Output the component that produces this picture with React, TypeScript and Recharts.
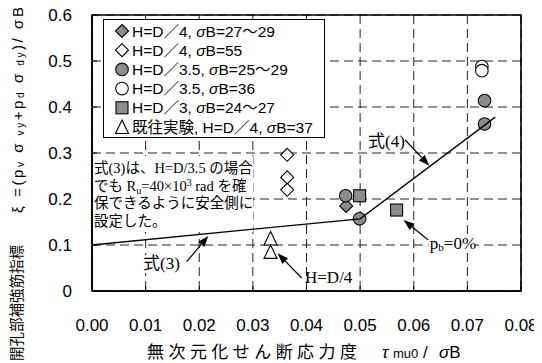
import React from 'react';
import {
  ScatterChart,
  Scatter,
  XAxis,
  YAxis,
  CartesianGrid,
  Legend,
  ReferenceLine,
  ReferenceDot,
  ReferenceArea,
} from 'recharts';

const SANS = "'Liberation Sans', Arial, 'Noto Sans CJK JP', sans-serif";
const SERIF = "'Liberation Serif', 'Times New Roman', 'Noto Sans CJK JP', serif";
const GRAY = '#8c8c8c';

const xTicks = [0, 0.01, 0.02, 0.03, 0.04, 0.05, 0.06, 0.07, 0.08];
const yTicks = [0, 0.1, 0.2, 0.3, 0.4, 0.5, 0.6];

// H=D/4, σB=27～29
const d4Gray = [{ x: 0.0474, y: 0.185 }];
// H=D/4, σB=55
const d4White = [
  { x: 0.0364, y: 0.296 },
  { x: 0.0364, y: 0.247 },
  { x: 0.0364, y: 0.22 },
];
// H=D/3.5, σB=25～29
const d35Gray = [
  { x: 0.0473, y: 0.207 },
  { x: 0.0499, y: 0.157 },
  { x: 0.0732, y: 0.414 },
  { x: 0.0732, y: 0.363 },
];
// H=D/3.5, σB=36
const d35White = [
  { x: 0.0727, y: 0.488 },
  { x: 0.0727, y: 0.479 },
];
// H=D/3, σB=24～27
const d3Gray = [
  { x: 0.0499, y: 0.207 },
  { x: 0.0568, y: 0.176 },
];
// 既往実験, H=D/4, σB=37
const pastTests = [
  { x: 0.0333, y: 0.114 },
  { x: 0.0333, y: 0.085 },
];
// 式(3) / 式(4)
const designLine = [
  { x: 0, y: 0.1 },
  { x: 0.05, y: 0.157 },
  { x: 0.0752, y: 0.378 },
];

const legendNames = [
  'H=D／4,  σB=27～29',
  'H=D／4,  σB=55',
  'H=D／3.5,  σB=25～29',
  'H=D／3.5,  σB=36',
  'H=D／3,  σB=24～27',
  '既往実験, H=D／4,  σB=37',
];
const legendMarks = ['diamond', 'diamond', 'circle', 'circle', 'square', 'triangle'];
const legendFills = [GRAY, '#fff', GRAY, '#fff', GRAY, '#fff'];

const noteLines = [
  '式(3)は、H=D/3.5 の場合',
  'でも R|u|=40×10^3^ rad を確',
  '保できるように安全側に',
  '設定した。',
];

type MarkProps = { cx: number; cy: number; fill: string };

const Mark = ({ kind, cx, cy, fill }: MarkProps & { kind: string }) => {
  const common = { fill, stroke: '#000', strokeWidth: 1.1 };
  if (kind === 'diamond') {
    const r = 6.5;
    return <polygon points={`${cx},${cy - r} ${cx + r},${cy} ${cx},${cy + r} ${cx - r},${cy}`} {...common} />;
  }
  if (kind === 'square') {
    return <rect x={cx - 6} y={cy - 6} width={12} height={12} {...common} />;
  }
  if (kind === 'triangle') {
    return <polygon points={`${cx},${cy - 7} ${cx + 6.5},${cy + 6.5} ${cx - 6.5},${cy + 6.5}`} {...common} />;
  }
  return <circle cx={cx} cy={cy} r={6.3} {...common} />;
};

const shapeOf = (kind: string, fill: string) => (p: any) => (
  <Mark kind={kind} cx={p.cx} cy={p.cy} fill={fill} />
);

// σ drawn in italics wherever it appears
const withSigma = (s: string) =>
  s.split('σ').map((part, i) => (
    <React.Fragment key={i}>
      {i > 0 && <tspan fontStyle="italic">σ</tspan>}
      {part}
    </React.Fragment>
  ));

const LegendBox = () => (
  <svg width={222} height={119} style={{ display: 'block' }}>
    <rect x={0.5} y={0.5} width={221} height={118} fill="#fff" stroke="#000" strokeWidth={1} />
    {legendNames.map((name, i) => {
      const cy = 12 + i * 19.2;
      return (
        <g key={name}>
          <Mark kind={legendMarks[i]} cx={19} cy={cy} fill={legendFills[i]} />
          <text x={29} y={cy + 5.5} fontSize={15.5} fontFamily={SANS} fill="#000">
            {withSigma(name)}
          </text>
        </g>
      );
    })}
  </svg>
);

// segment with a filled arrowhead at the second point
const arrowShape = (p: any) => {
  const { x1, y1, x2, y2 } = p;
  const a = Math.atan2(y2 - y1, x2 - x1);
  const len = 11;
  const w = 4;
  const bx = x2 - len * Math.cos(a);
  const by = y2 - len * Math.sin(a);
  const pts = `${x2},${y2} ${bx - w * Math.sin(a)},${by + w * Math.cos(a)} ${bx + w * Math.sin(a)},${by - w * Math.cos(a)}`;
  return (
    <g>
      <line x1={x1} y1={y1} x2={bx} y2={by} stroke="#000" strokeWidth={1.2} />
      <polygon points={pts} fill="#000" />
    </g>
  );
};

const labelShape = (content: React.ReactNode, bg?: number) => (p: any) => (
  <g>
    {bg ? <rect x={p.cx - 1} y={p.cy - 14} width={bg} height={18} fill="#fff" /> : null}
    <text x={p.cx} y={p.cy} fontSize={17} fontFamily={SERIF} fill="#000">
      {content}
    </text>
  </g>
);

// "R|u|" is a subscript, "^3^" a superscript
const richLine = (s: string) =>
  s.split(/(\|[^|]+\||\^[^^]+\^)/).map((part, i, all) => {
    const prev = all[i - 1] || '';
    const back = prev.startsWith('|') ? -3 : prev.startsWith('^') ? 5 : 0;
    if (part.startsWith('|')) {
      return (
        <tspan key={i} fontSize={10} dy={3}>
          {part.slice(1, -1)}
        </tspan>
      );
    }
    if (part.startsWith('^')) {
      return (
        <tspan key={i} fontSize={10} dy={-5}>
          {part.slice(1, -1)}
        </tspan>
      );
    }
    return (
      <tspan key={i} dy={back}>
        {part}
      </tspan>
    );
  });

const noteShape = (p: any) => (
  <g>
    <rect x={p.cx + 1} y={p.cy} width={160} height={76} fill="#fff" />
    {noteLines.map((line, i) => (
      <text key={i} x={p.cx + 2} y={p.cy + 17 + i * 17.7} fontSize={14.5} fontFamily={SERIF} fill="#000">
        {richLine(line)}
      </text>
    ))}
  </g>
);

const YTitle = () => (
  <g fontFamily={SANS} fill="#000">
    <text
      x={17}
      y={361}
      transform="rotate(-90, 17, 361)"
      dominantBaseline="central"
      fontSize={14.6}
      textLength={116}
      lengthAdjust="spacing"
    >
      開孔部補強筋指標
    </text>
    <text
      x={17}
      y={213}
      transform="rotate(-90, 17, 213)"
      dominantBaseline="central"
      fontSize={15}
      textLength={206}
      lengthAdjust="spacing"
    >
      <tspan>ξ =(p</tspan>
      <tspan fontSize={10} dy={3}>v</tspan>
      <tspan dy={-3}> σ</tspan>
      <tspan fontSize={10} dy={3}> vy</tspan>
      <tspan dy={-3}>+p</tspan>
      <tspan fontSize={10} dy={3}>d</tspan>
      <tspan dy={-3}> σ</tspan>
      <tspan fontSize={10} dy={3}> dy</tspan>
      <tspan dy={-3}>)/ σB</tspan>
    </text>
  </g>
);

const XTitle = () => (
  <g fontFamily={SANS} fill="#000">
    <text x={147} y={358} fontSize={17} textLength={210} lengthAdjust="spacing">
      無次元化せん断応力度
    </text>
    <text y={358} fontSize={17}>
      <tspan x={382} fontStyle="italic">τ</tspan>
      <tspan x={393} fontSize={13}>mu0</tspan>
      <tspan x={423}>/</tspan>
      <tspan x={439} fontStyle="italic">σ</tspan>
      <tspan>B</tspan>
    </text>
  </g>
);

const tickStyle = { fontSize: 17, fontFamily: SANS, fill: '#000' };

export default function App() {
  return (
    <div style={{ width: 542, height: 363, marginLeft: -8, marginTop: -8, position: 'relative' }}>
      <ScatterChart width={542} height={363} margin={{ top: 15, right: 21, bottom: 0, left: 0 }}>
        <CartesianGrid xAxisId="bottom" stroke="#222" strokeDasharray="9 5" strokeWidth={1} />
        <XAxis
          xAxisId="bottom"
          type="number"
          dataKey="x"
          domain={[0, 0.08]}
          ticks={xTicks}
          allowDataOverflow
          height={72}
          stroke="#000"
          strokeWidth={1.6}
          tickSize={5}
          tickMargin={23}
          tickLine={{ stroke: '#000', strokeWidth: 1, transform: 'translate(0,-5)' }}
          tick={tickStyle}
          tickFormatter={(v: number) => v.toFixed(2)}
          label={{ content: () => <XTitle /> }}
        />
        <XAxis
          xAxisId="top"
          orientation="top"
          type="number"
          domain={[0, 0.08]}
          ticks={xTicks}
          allowDataOverflow
          height={0}
          stroke="#000"
          strokeWidth={1.6}
          tickSize={5}
          tick={false}
          tickLine={{ stroke: '#000', strokeWidth: 1, transform: 'translate(0,5)' }}
        />
        <YAxis
          type="number"
          dataKey="y"
          domain={[0, 0.6]}
          ticks={yTicks}
          allowDataOverflow
          width={92}
          stroke="#000"
          strokeWidth={1.6}
          tickSize={5}
          tickMargin={15}
          tickLine={{ stroke: '#000', strokeWidth: 1, transform: 'translate(5,0)' }}
          tick={tickStyle}
          tickFormatter={(v: number) => (v === 0 ? '0' : v.toFixed(1))}
          label={{ content: () => <YTitle /> }}
        />
        <ReferenceArea
          xAxisId="bottom"
          x1={0}
          x2={0.08}
          y1={0}
          y2={0.6}
          fill="none"
          stroke="#000"
          strokeWidth={1.6}
          fillOpacity={0}
        />
        <ReferenceDot xAxisId="bottom" x={0} y={0.2935} r={0} shape={noteShape} />
        <Scatter xAxisId="bottom" data={d4White} shape={shapeOf('diamond', '#fff')} isAnimationActive={false} />
        <Scatter xAxisId="bottom" data={d4Gray} shape={shapeOf('diamond', GRAY)} isAnimationActive={false} />
        <Scatter xAxisId="bottom" data={d35Gray} shape={shapeOf('circle', GRAY)} isAnimationActive={false} />
        <Scatter xAxisId="bottom" data={d35White} shape={shapeOf('circle', '#fff')} isAnimationActive={false} />
        <Scatter xAxisId="bottom" data={d3Gray} shape={shapeOf('square', GRAY)} isAnimationActive={false} />
        <Scatter xAxisId="bottom" data={pastTests} shape={shapeOf('triangle', '#fff')} isAnimationActive={false} />
        <Scatter
          xAxisId="bottom"
          data={designLine}
          line={{ stroke: '#000', strokeWidth: 1.3 }}
          shape={() => <g />}
          isAnimationActive={false}
        />
        <ReferenceLine
          xAxisId="bottom"
          segment={[{ x: 0.01766, y: 0.0637 }, { x: 0.02169, y: 0.1196 }]}
          shape={arrowShape}
        />
        <ReferenceLine
          xAxisId="bottom"
          segment={[{ x: 0.0391, y: 0.0283 }, { x: 0.0346, y: 0.082 }]}
          shape={arrowShape}
        />
        <ReferenceLine
          xAxisId="bottom"
          segment={[{ x: 0.0627, y: 0.1109 }, { x: 0.0581, y: 0.1543 }]}
          shape={arrowShape}
        />
        <ReferenceLine
          xAxisId="bottom"
          segment={[{ x: 0.0584, y: 0.3283 }, { x: 0.0629, y: 0.2724 }]}
          shape={arrowShape}
        />
        <ReferenceDot xAxisId="bottom" x={0.00951} y={0.0478} r={0} shape={labelShape('式(3)', 40)} />
        <ReferenceDot xAxisId="bottom" x={0.03972} y={0.0174} r={0} shape={labelShape('H=D/4')} />
        <ReferenceDot
          xAxisId="bottom"
          x={0.063}
          y={0.0913}
          r={0}
          shape={labelShape(
            <>
              p
              <tspan fontSize={11} dy={2}>
                b
              </tspan>
              <tspan dy={-2}>=0%</tspan>
            </>,
            46
          )}
        />
        <ReferenceDot xAxisId="bottom" x={0.05147} y={0.313} r={0} shape={labelShape('式(4)')} />
        <Legend
          layout="vertical"
          align="center"
          verticalAlign="middle"
          wrapperStyle={{ left: 102.7, top: 19, width: 222, height: 119 }}
          content={() => <LegendBox />}
        />
      </ScatterChart>
    </div>
  );
}
